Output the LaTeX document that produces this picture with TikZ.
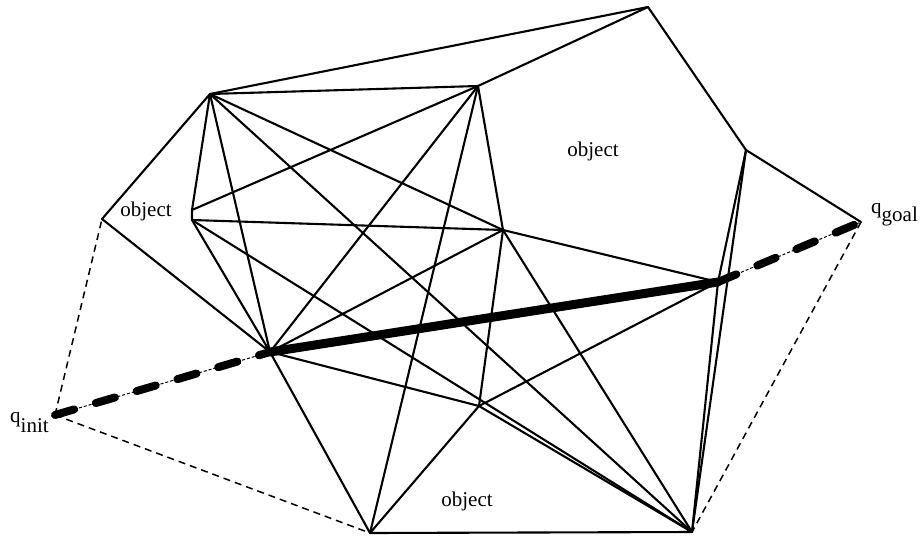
\documentclass[tikz,border=0pt]{standalone}
\usepackage{fontspec}
\setmainfont{Liberation Serif}
\begin{document}
\begin{tikzpicture}[x=1pt,y=-1pt,
  edge/.style={line width=2.1pt, line cap=round, line join=round},
  thindash/.style={line width=1.5pt, dash pattern=on 7pt off 5pt},
  pathsolid/.style={line width=9pt, line cap=round},
  pathdash/.style={line width=8pt, line cap=round, dash pattern=on 20pt off 22.5pt},
  pathdots/.style={line width=1pt, dash pattern=on 3pt off 2pt},
  lbl/.style={font=\fontsize{21pt}{24pt}\selectfont, inner sep=0pt}]
\useasboundingbox (0,0) rectangle (921,536);
% vertices
\coordinate (qi) at (55,415);
\coordinate (qg) at (861,222);
\coordinate (B) at (102,219);
\coordinate (A) at (210,94);
\coordinate (C1) at (192,210);
\coordinate (C2) at (192,220);
\coordinate (D) at (270,352);
\coordinate (E) at (478,86);
\coordinate (F) at (648,7);
\coordinate (G) at (746,150);
\coordinate (I) at (718,282);
\coordinate (H) at (503,230);
\coordinate (J) at (370,533);
\coordinate (K) at (692,532);
\coordinate (L) at (479,406);
% obstacles
\draw[edge] (B) -- (A) -- (C1) -- (C2) -- (D) -- cycle;
\draw[edge] (E) -- (F) -- (G) -- (I) -- (H) -- cycle;
\draw[edge] (J) -- (L) -- (K) -- cycle;
% visibility edges
\draw[edge] (A) -- (F);
\draw[edge] (A) -- (E);
\draw[edge] (A) -- (H);
\draw[edge] (A) -- (K);
\draw[edge] (A) -- (D);
\draw[edge] (C1) -- (E);
\draw[edge] (C2) -- (H);
\draw[edge] (C2) -- (K);
\draw[edge] (D) -- (E);
\draw[edge] (D) -- (H);
\draw[edge] (D) -- (L);
\draw[edge] (D) -- (J);
\draw[edge] (E) -- (J);
\draw[edge] (H) -- (L);
\draw[edge] (H) -- (K);
\draw[edge] (L) -- (I);
\draw[edge] (I) -- (K);
\draw[edge] (G) -- (K);
\draw[edge] (G) -- (qg);
% start/goal connections
\draw[thindash] (qi) -- (B);
\draw[thindash] (qi) -- (J);
\draw[thindash] (qg) -- (K);
% path
\draw[pathdots] (qi) -- (D);
\draw[pathdots] (I) -- (qg);
\draw[pathdash] (qi) -- (D);
\draw[pathsolid] (D) -- (I);
\draw[pathdash] (I) -- (qg);
% labels
\node[lbl, anchor=base] (o1) at (146,216) {object};
\node[lbl, anchor=base] (o2) at (593,156) {object};
\node[lbl, anchor=base] (o3) at (467,506) {object};
\node[lbl, anchor=base west] (lqi) at (10,422) {q\raisebox{-0.5em}{init}};
\node[lbl, anchor=base west] (lqg) at (871,213) {q\raisebox{-0.4em}{goal}};
\end{tikzpicture}
\end{document}
